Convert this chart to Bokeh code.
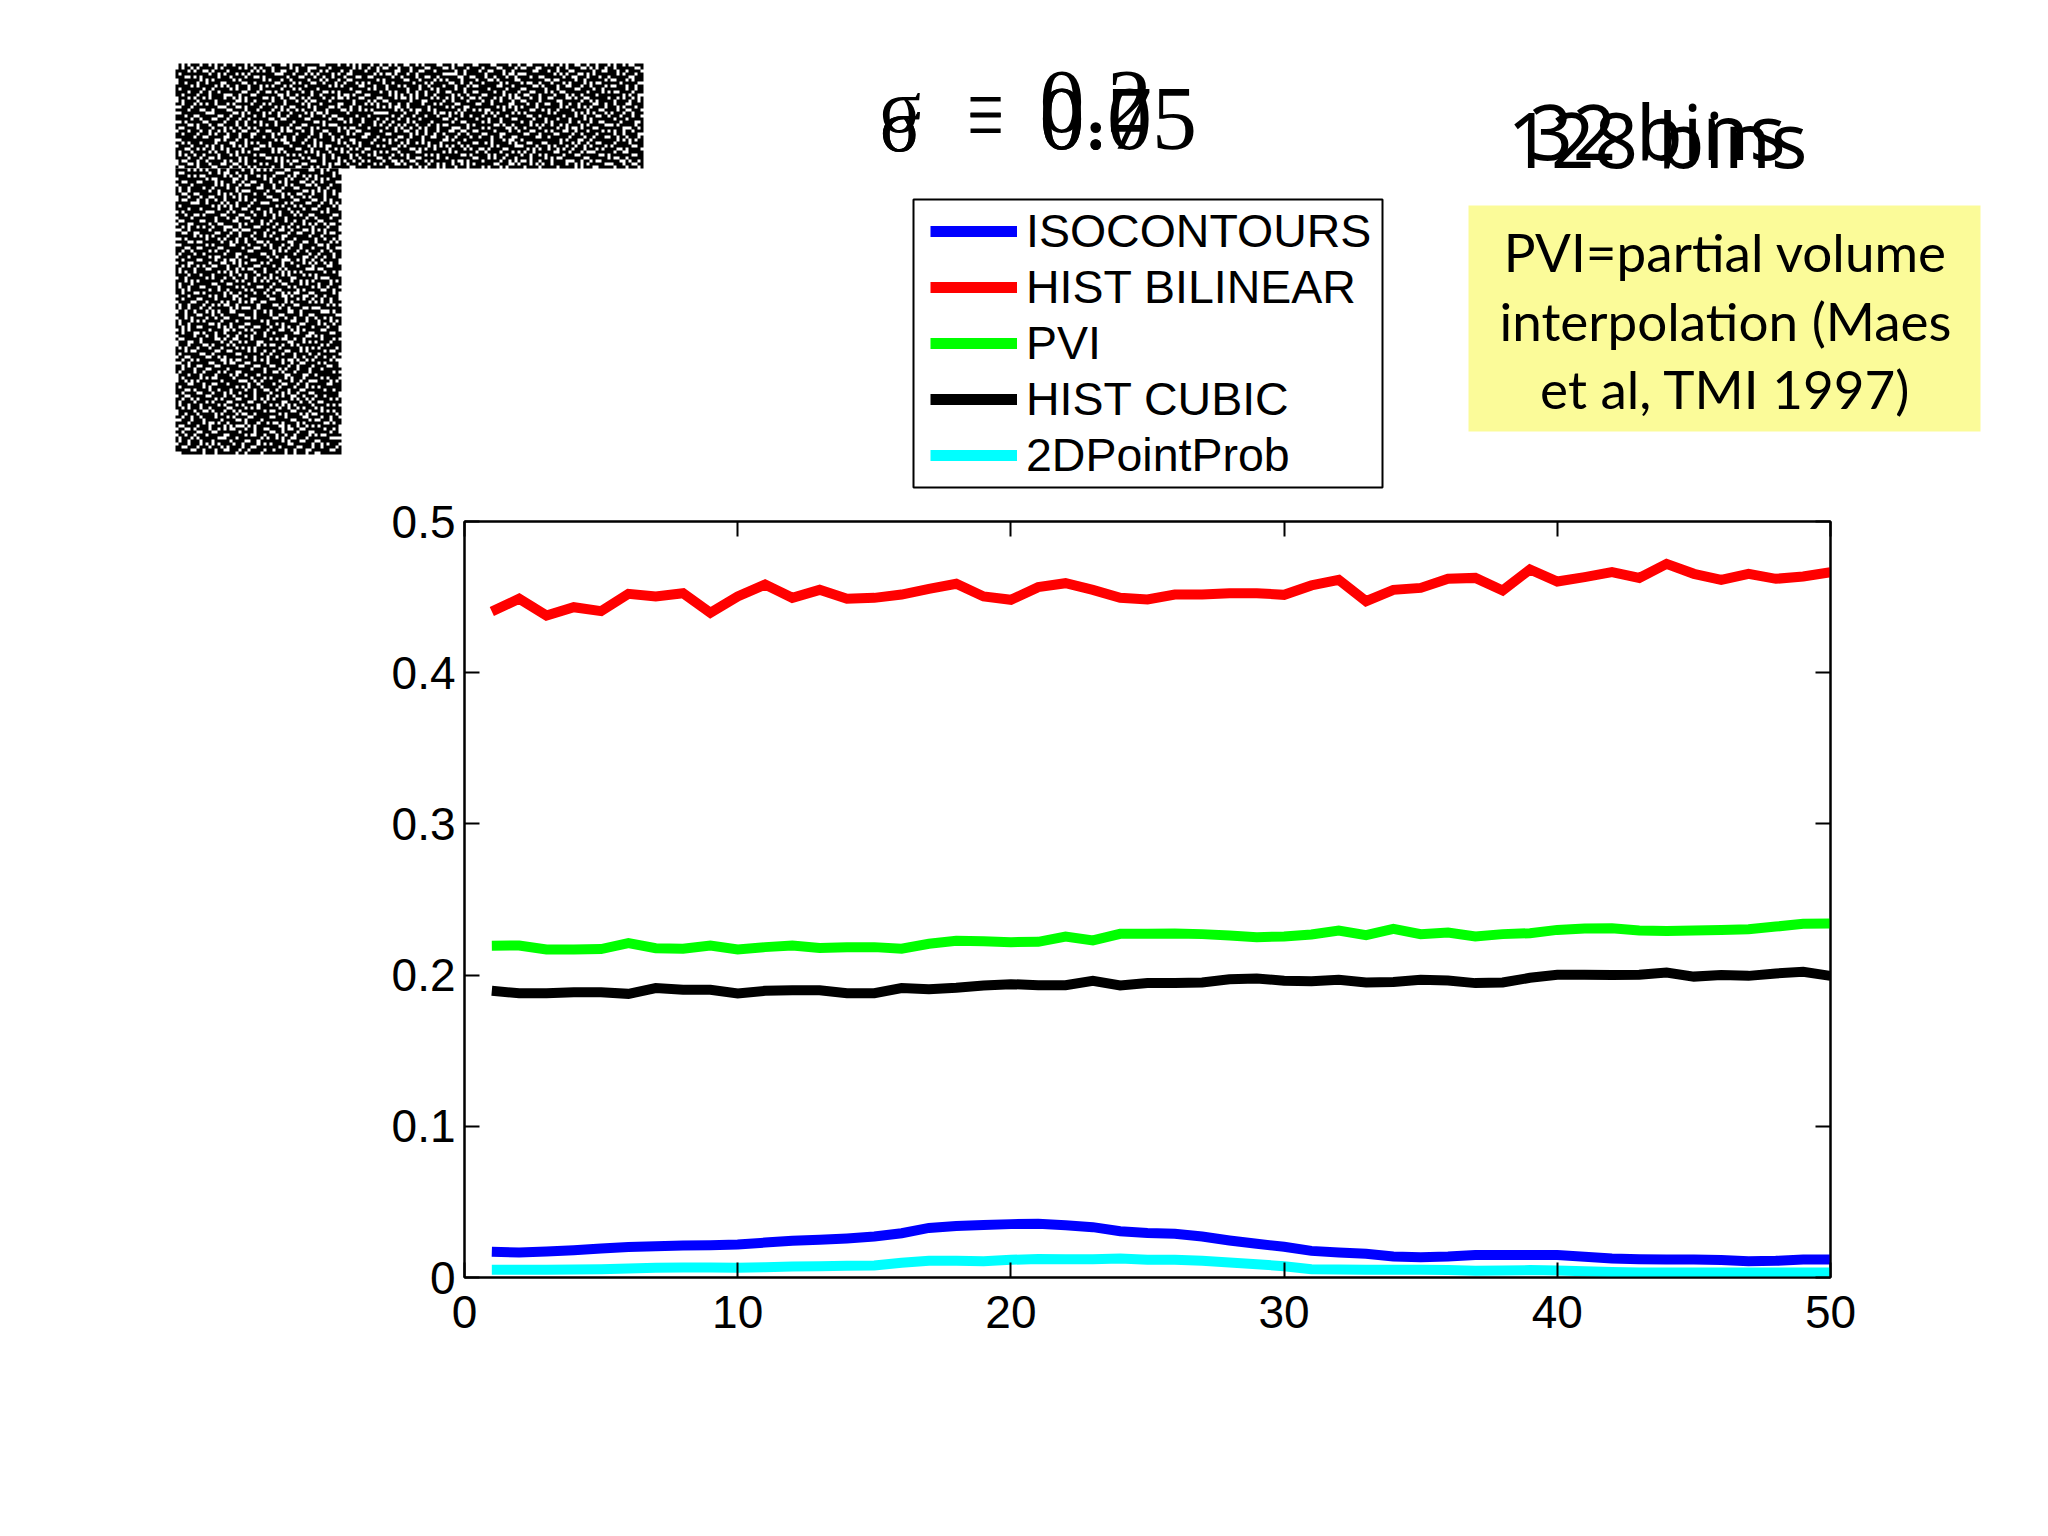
import numpy as np
from bokeh.core.properties import value
from bokeh.embed import file_html
from bokeh.layouts import column
from bokeh.models import FixedTicker, Legend, LegendItem, LinearAxis, Range1d
from bokeh.plotting import figure
from bokeh.resources import INLINE

x_values = list(range(1, 51))
x_ticks = [0, 10, 20, 30, 40, 50]
y_ticks = [0, 0.1, 0.2, 0.3, 0.4, 0.5]
y_tick_labels = ["0", "0.1", "0.2", "0.3", "0.4", "0.5"]

isocontours = [.017, .0165, .0172, .0181, .0192, .0201, .0207, .0212, .0214, .0218,
               .0231, .0243, .0249, .0258, .0271, .0293, .0328, .034, .0348, .0353,
               .0355, .0346, .0333, .0306, .0295, .0289, .0271, .0245, .0223, .0203,
               .0176, .0165, .0157, .0139, .0134, .0139, .0148, .0148, .0148, .0148,
               .0137, .0126, .0121, .0119, .0119, .0115, .0108, .011, .0119, .0119]
hist_bilinear = [.4405, .4489, .4378, .4433, .4407, .4522, .4504, .4526, .4396, .4504,
                 .4583, .4495, .4548, .4489, .4495, .4517, .4555, .4588, .4504, .4482,
                 .4566, .4592, .4548, .4495, .4484, .4517, .4517, .4526, .4526, .4515,
                 .4577, .4614, .4473, .4548, .4561, .4621, .4627, .4544, .4683, .4603,
                 .4632, .4665, .4627, .472, .4654, .4614, .4654, .4621, .4636, .4665]
pvi = [.2194, .2196, .2169, .2169, .2172, .2211, .2178, .2174, .2196, .2169,
       .2185, .2196, .218, .2185, .2185, .2174, .2207, .2227, .2224, .2218,
       .222, .2255, .2229, .2273, .2273, .2275, .2271, .2262, .2251, .2255,
       .2269, .2295, .2264, .2306, .2271, .2282, .2255, .2271, .2277, .2299,
       .2308, .231, .2295, .2291, .2295, .2299, .2304, .2321, .2339, .2341]
hist_cubic = [.1896, .188, .188, .1887, .1887, .1876, .1914, .1903, .1903, .1878,
              .1896, .19, .19, .188, .188, .1914, .1907, .1916, .1931, .194,
              .1933, .1933, .1962, .1931, .1947, .1947, .1951, .1973, .1978, .1962,
              .196, .1969, .1951, .1955, .1969, .1964, .1947, .1951, .1982, .2002,
              .2002, .2, .2002, .2017, .199, .2, .1995, .2011, .2022, .1995]
point_prob = [.0051, .0051, .0051, .0053, .0055, .006, .0064, .0066, .0066, .0064,
              .0068, .0073, .0075, .0077, .0079, .0097, .011, .011, .0108, .0117,
              .0123, .0121, .0121, .0126, .0117, .0117, .011, .0099, .0088, .0075,
              .0055, .0053, .0051, .0051, .0051, .0049, .0044, .0046, .0049, .0046,
              .0042, .0037, .0033, .0033, .0033, .0033, .0033, .0033, .0033, .0033]

series_names = ["ISOCONTOURS", "HIST BILINEAR", "PVI", "HIST CUBIC", "2DPointProb"]
series_values = [isocontours, hist_bilinear, pvi, hist_cubic, point_prob]
series_colors = ["#0000ff", "#ff0000", "#00ff00", "#000000", "#00ffff"]

sigma_numbers = ["0.05", "0.2", "0.7"]
bin_labels = ["128 bins", "32 bins"]
note_lines = ["PVI=partial volume", "interpolation (Maes", "et al, TMI 1997)"]

# the speckle in the corner is only decoration: two hand typed tiles overlaid
speckle_a = ["1000100000010000100",
             "0010000100000100000",
             "0000001000100000010",
             "0100000000000010100",
             "0000100010000000001",
             "1000000000101000000",
             "0001000100000001000",
             "0000010000000100010",
             "0100000001000000000",
             "0000100000010010000",
             "0010000100000000101"]
speckle_b = ["00100000100001000001000",
             "10000100000000010000010",
             "00001000010010000100000",
             "01000000000100000000101",
             "00010010000000100010000",
             "00000000100010000000010",
             "10010000001000001000000",
             "00000101000000010000100",
             "01000000000010000010000",
             "00001000100000100000001",
             "00100000000100000100000",
             "00000010010000001000010",
             "10000000000001000000100"]


def speckle(rows, cols, start_row=0):
    a = np.array([[int(c) for c in r] for r in speckle_a])
    b = np.array([[int(c) for c in r] for r in speckle_b])
    out = np.zeros((rows, cols), dtype=np.uint32)
    for i in range(rows):
        for j in range(cols):
            on = a[(i + start_row) % a.shape[0], j % a.shape[1]] or b[(i + start_row) % b.shape[0], j % b.shape[1]]
            grey = 255 if on else 0
            out[i, j] = (255 << 24) | (grey << 16) | (grey << 8) | grey
    return out


# top band: picture, sigma, bins, legend and note, drawn in page pixels
top = figure(width=2040, height=495, x_range=Range1d(0, 2040), y_range=Range1d(495, 0),
             output_backend="svg", toolbar_location=None, x_axis_type=None, y_axis_type=None,
             min_border=0, outline_line_color=None, background_fill_color="white", frame_align=False)
top.grid.visible = False

top.image_rgba(image=[speckle(35, 156)], x=[175], y=[63], dw=[468], dh=[105])
top.image_rgba(image=[speckle(95, 55, 35)], x=[175], y=[168], dw=[166], dh=[286])

for y in [124, 105, 124]:
    top.text([900], [y], text=["σ"], text_font=value("Liberation Serif"), text_font_size="76px",
             text_align="center", text_baseline="alphabetic", text_color="black")
for y in [121, 105]:
    top.text([985], [y], text=["="], text_font=value("Liberation Sans"), text_font_size="62px",
             text_align="center", text_baseline="alphabetic", text_color="black")
for label, y in zip(sigma_numbers, [118, 101, 118]):
    top.text([1039], [y], text=[label], text_font=value("Liberation Serif"), text_font_size="90px",
             text_align="left", text_baseline="alphabetic", text_color="black")
for label, y in zip(bin_labels, [138, 130]):
    top.text([1657], [y], text=[label], text_font=value("Noto Sans"), text_font_size="76px",
             text_align="center", text_baseline="alphabetic", text_color="black")

top.quad(left=[1468], right=[1980], top=[205], bottom=[431], fill_color="#fbfb99", line_color=None)
top.text([1725, 1725, 1725], [251, 320, 388], text=note_lines, text_font=value("Lato"), text_font_size="53px",
         text_align="center", text_baseline="alphabetic", text_color="black")

top.quad(left=[913], right=[1382], top=[199], bottom=[487], fill_color="white",
         line_color="black", line_width=2)
legend_items = []
for name, color in zip(series_names, series_colors):
    # line sits off the visible range, it only gives the legend its swatch
    r = top.line([-20, -10], [-20, -10], line_color=color, line_width=11)
    legend_items.append(LegendItem(label=name, renderers=[r]))
legend = Legend(items=legend_items, location=(930, 13), padding=4, margin=0, spacing=2,
                glyph_width=87, glyph_height=40, label_standoff=9, label_text_font="Liberation Sans",
                label_text_font_size="46.5px", label_text_color="black",
                border_line_color=None, background_fill_alpha=0)
top.add_layout(legend, "center")

# the chart itself
p = figure(width=2040, height=1033, x_range=Range1d(0, 50), y_range=Range1d(0, 0.5),
           output_backend="svg", toolbar_location=None, min_border_left=464, min_border_right=210,
           min_border_top=26, min_border_bottom=251, outline_line_color="black", outline_line_width=2,
           background_fill_color="white", frame_align=False)
p.grid.visible = False

for values, color in zip(series_values, series_colors):
    p.line(x_values, values, line_color=color, line_width=10, line_join="miter")

for ax in p.xaxis:
    ax.ticker = FixedTicker(ticks=x_ticks)
    ax.major_label_standoff = 18
for ax in p.yaxis:
    ax.ticker = FixedTicker(ticks=y_ticks)
    ax.major_label_overrides = dict(zip(y_ticks, y_tick_labels))
    ax.major_label_standoff = 9
top_axis = LinearAxis(ticker=FixedTicker(ticks=x_ticks), major_label_overrides={t: "" for t in x_ticks})
right_axis = LinearAxis(ticker=FixedTicker(ticks=y_ticks), major_label_overrides={t: "" for t in y_ticks})
p.add_layout(top_axis, "above")
p.add_layout(right_axis, "right")

for ax in p.xaxis + p.yaxis + [top_axis, right_axis]:
    ax.major_tick_in = 15
    ax.major_tick_out = 0
    ax.minor_tick_in = 0
    ax.minor_tick_out = 0
    ax.major_tick_line_color = "black"
    ax.major_tick_line_width = 2
    ax.axis_line_color = "black"
    ax.axis_line_width = 2
    ax.major_label_text_font = "Liberation Sans"
    ax.major_label_text_font_size = "46px"
    ax.major_label_text_color = "black"

page = column(top, p, spacing=0)
open("out.html", "w").write(file_html(page, INLINE))
